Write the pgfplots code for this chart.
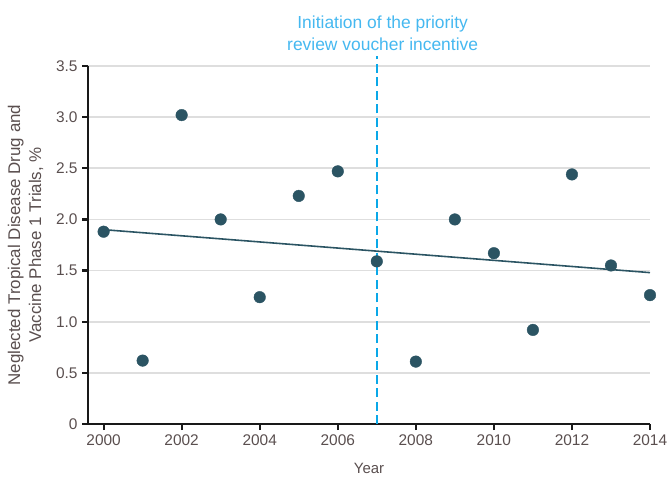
\documentclass[border=0pt]{standalone}
\usepackage{pgfplots}
\pgfplotsset{compat=1.18}
\usepackage{fontspec}
\setmainfont{Liberation Sans}
\definecolor{pt}{HTML}{2B5463}
\definecolor{vb}{HTML}{0AA8E8}
\definecolor{ab}{HTML}{45B8F0}
\definecolor{tx}{HTML}{5A4F4F}
\begin{document}
\begin{tikzpicture}
\begin{axis}[
  scale only axis, width=562bp, height=358bp,
  xmin=1999.6, xmax=2014, ymin=0, ymax=3.5,
  axis x line*=bottom, axis y line*=left,
  axis line style={line width=2.5pt, black!90, -},
  xtick={2000,2002,...,2014},
  xticklabels={2000,2002,2004,2006,2008,2010,2012,2014},
  ytick={0,0.5,1,1.5,2,2.5,3,3.5},
  yticklabels={0,0.5,1.0,1.5,2.0,2.5,3.0,3.5},
  tick align=outside, major tick length=6bp,
  tick style={line width=2.2pt, black!90},
  ymajorgrids, grid style={line width=1.8pt, black!13},
  ticklabel style={font=\fontsize{15.5}{17}\selectfont, text=tx},
  xticklabel style={yshift=-1bp},
  yticklabel style={xshift=-1bp},
  xlabel={Year}, ylabel={Neglected Tropical Disease Drug and\\Vaccine Phase 1 Trials, \%},
  xlabel style={font=\fontsize{15}{17}\selectfont, text=tx, yshift=-11bp},
  ylabel style={font=\fontsize{17}{21}\selectfont, text=tx, align=center, yshift=6bp},
  clip=false,
]
\addplot[vb, line width=1.7pt, dash pattern=on 9bp off 4.5bp] coordinates {(2007,0) (2007,3.6)};
\addplot[pt, line width=1.6pt] coordinates {(2000,1.90) (2014,1.48)};
\addplot[only marks, mark=*, mark size=5.8bp, pt] coordinates {
(2000,1.88) (2001,0.62) (2002,3.02) (2003,2.00) (2004,1.24) (2005,2.23) (2006,2.47)
(2007,1.59) (2008,0.61) (2009,2.00) (2010,1.67) (2011,0.92) (2012,2.44) (2013,1.55) (2014,1.26)};
\node[anchor=south, align=center, text=ab, font=\fontsize{17.5}{22}\selectfont, inner sep=0pt] at (axis cs:2007.15,3.65) {Initiation of the priority\\review voucher incentive};
\end{axis}
\pgfresetboundingbox
\path ([shift={(-88bp,-63bp)}]current axis.south west) rectangle ([shift={(20bp,66bp)}]current axis.north east);
\end{tikzpicture}
\end{document}
